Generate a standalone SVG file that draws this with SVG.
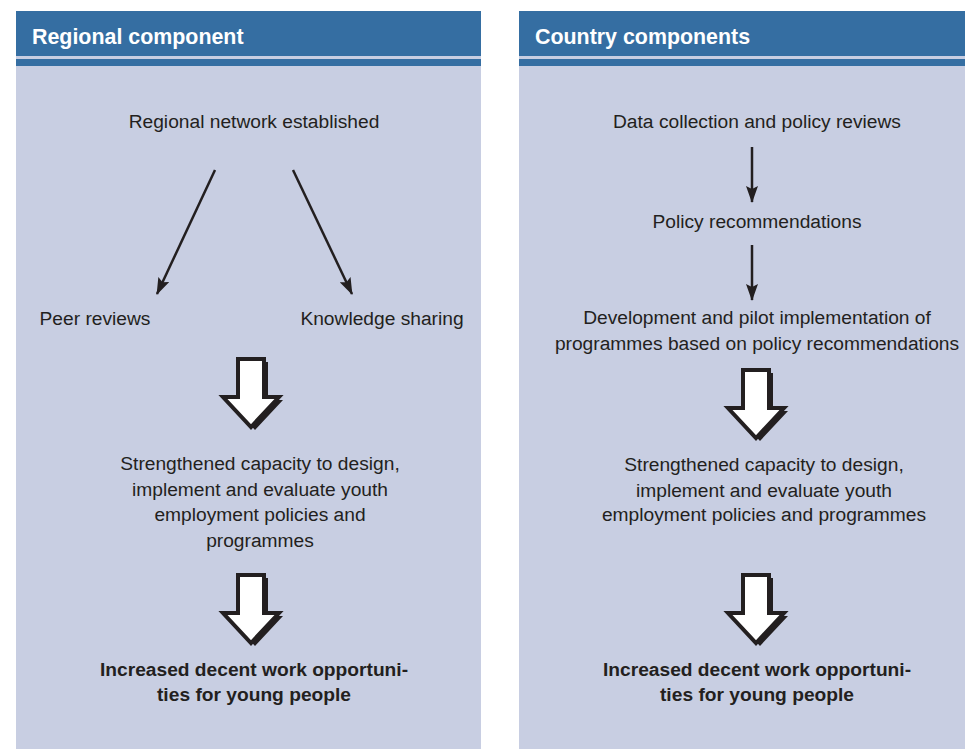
<svg xmlns="http://www.w3.org/2000/svg" xmlns:xlink="http://www.w3.org/1999/xlink" width="965" height="749" viewBox="0 0 965 749">
<style>
.panel{fill:#c8cee2}
.hdr{fill:#356ea2}
.ht{font-family:"Liberation Sans",Arial,sans-serif;font-weight:bold;font-size:21.4px;fill:#ffffff}
.t{font-family:"Liberation Sans",Arial,sans-serif;font-size:19.2px;fill:#231f20;text-anchor:middle}
.b{font-family:"Liberation Sans",Arial,sans-serif;font-size:19.2px;font-weight:bold;fill:#231f20;text-anchor:middle}
.conn{stroke:#231f20;stroke-width:2.5;fill:none;marker-end:url(#ah)}
</style>
<defs>
<marker id="ah" viewBox="0 0 17 12" refX="16" refY="6" markerWidth="17" markerHeight="12" markerUnits="userSpaceOnUse" orient="auto">
<path d="M0,0 L17,6 L0,12 L3,6 Z" fill="#231f20"/>
</marker>
<g id="blk">
<polygon points="-10,5 16,5 16,43 31,43 3,73 -25,43 -10,43" fill="#231f20"/>
<polygon points="-14,2 12,2 12,40 27,40 -1,70 -29,40 -14,40" fill="#ffffff" stroke="#231f20" stroke-width="4" stroke-linejoin="miter"/>
</g>
</defs>
<rect width="965" height="749" fill="#ffffff"/>
<g id="regional-panel">
<rect class="panel" x="16" y="11" width="465" height="738"/>
<rect class="hdr" x="16" y="11" width="465" height="45"/>
<rect class="hdr" x="16" y="59" width="465" height="7"/>
<text class="ht" x="32" y="44">Regional component</text>
</g>
<g id="country-panel">
<rect class="panel" x="519" y="11" width="446" height="738"/>
<rect class="hdr" x="519" y="11" width="446" height="45"/>
<rect class="hdr" x="519" y="59" width="446" height="7"/>
<text class="ht" x="535" y="44">Country components</text>
</g>
<g id="connectors">
<line class="conn" x1="215" y1="170" x2="157" y2="294"/>
<line class="conn" x1="293" y1="170" x2="352" y2="294"/>
<line class="conn" x1="752" y1="147" x2="752" y2="202"/>
<line class="conn" x1="752" y1="245" x2="752" y2="300"/>
<use xlink:href="#blk" transform="translate(252,357)"/>
<use xlink:href="#blk" transform="translate(252,573)"/>
<use xlink:href="#blk" transform="translate(757,368)"/>
<use xlink:href="#blk" transform="translate(757,573)"/>
</g>
<g id="regional-network"><text class="t" x="254" y="128">Regional network established</text></g>
<g id="peer-reviews"><text class="t" x="95" y="325">Peer reviews</text></g>
<g id="knowledge-sharing"><text class="t" x="382" y="325">Knowledge sharing</text></g>
<g id="regional-capacity"><text class="t" x="260" y="470">Strengthened capacity to design,</text><text class="t" x="260" y="496">implement and evaluate youth</text><text class="t" x="260" y="521">employment policies and</text><text class="t" x="260" y="547">programmes</text></g>
<g id="regional-outcome"><text class="b" x="254" y="676">Increased decent work opportuni-</text><text class="b" x="254" y="701">ties for young people</text></g>
<g id="data-collection"><text class="t" x="757" y="128">Data collection and policy reviews</text></g>
<g id="policy-recs"><text class="t" x="757" y="228">Policy recommendations</text></g>
<g id="development"><text class="t" x="757" y="324">Development and pilot implementation of</text><text class="t" x="757" y="350">programmes based on policy recommendations</text></g>
<g id="country-capacity"><text class="t" x="764" y="471">Strengthened capacity to design,</text><text class="t" x="764" y="497">implement and evaluate youth</text><text class="t" x="764" y="521">employment policies and programmes</text></g>
<g id="country-outcome"><text class="b" x="757" y="676">Increased decent work opportuni-</text><text class="b" x="757" y="701">ties for young people</text></g>
</svg>
